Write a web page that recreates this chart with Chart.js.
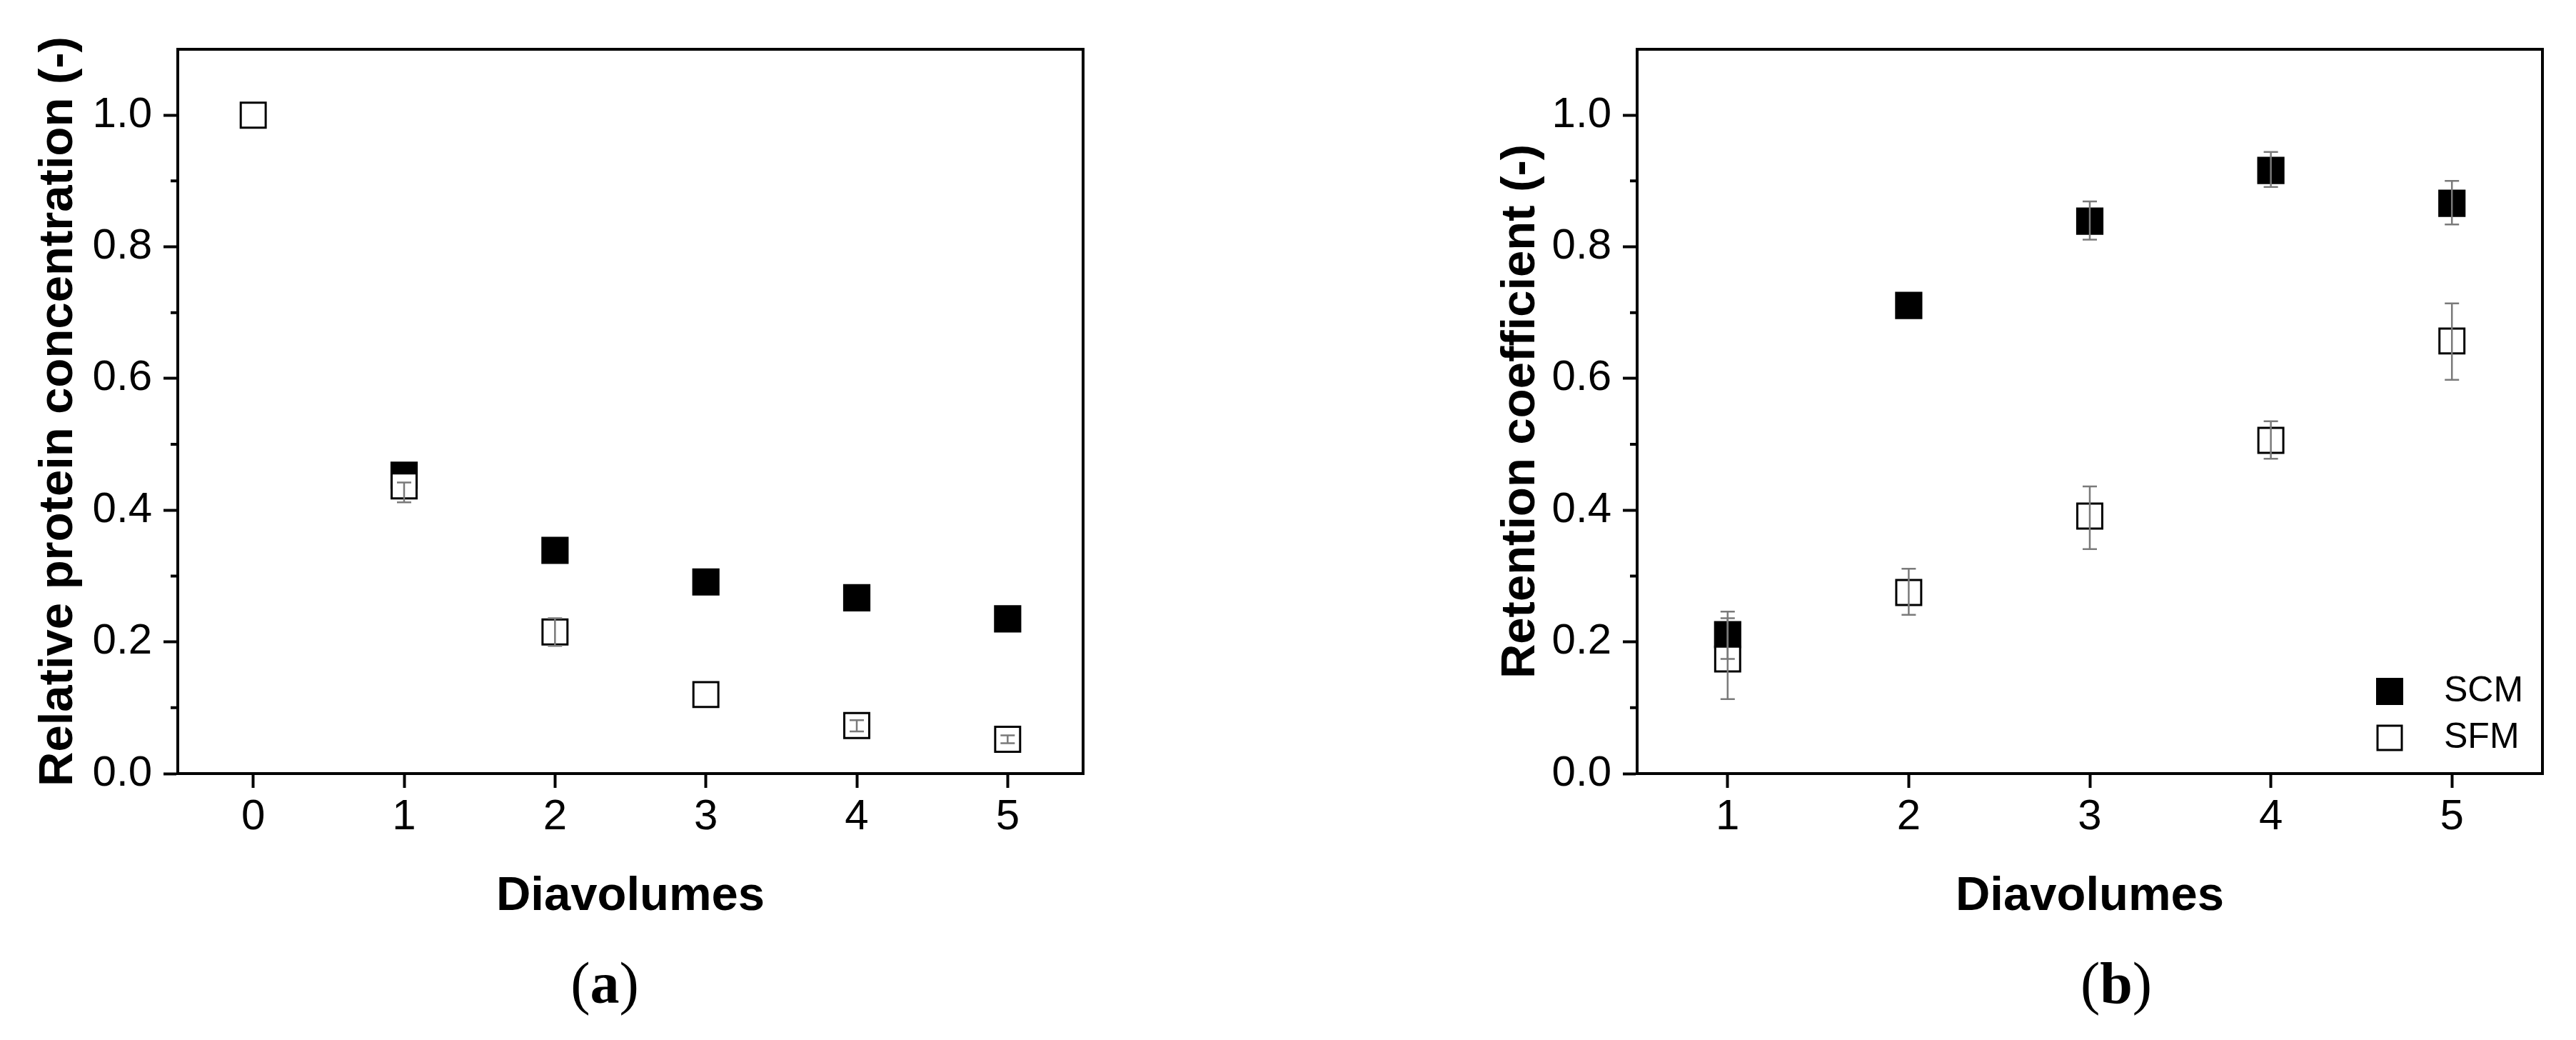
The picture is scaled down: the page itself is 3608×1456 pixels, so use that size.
<!DOCTYPE html>
<html>
<head>
<meta charset="utf-8">
<script src="https://cdn.jsdelivr.net/npm/chart.js@4.4.1/dist/chart.umd.min.js"></script>
<style>
  html, body { margin: 0; padding: 0; background: #fff; }
  body { width: 3608px; height: 1456px; position: relative; overflow: hidden; }
  .panel { position: absolute; top: 0; height: 1300px; }
  #panelA { left: 0; width: 1600px; }
  #panelB { left: 2044px; width: 1564px; }
  .caption {
    position: absolute; top: 1336px; width: 300px; margin-left: -150px;
    text-align: center; font-family: "Liberation Serif", "Times New Roman", serif;
    font-size: 82px; line-height: 1; color: #000;
  }
</style>
</head>
<body>
<div class="panel" id="panelA"><canvas id="chartA"></canvas></div>
<div class="panel" id="panelB"><canvas id="chartB"></canvas></div>
<div class="caption" style="left:847px">(<b>a</b>)</div>
<div class="caption" style="left:2964px">(<b>b</b>)</div>
<script>
// (a) relative protein concentration vs diavolumes
const diavolumesA = [0, 1, 2, 3, 4, 5];
const scmConcentration = [null, 0.453, 0.339, 0.291, 0.267, 0.235];
const sfmConcentration = [1.0, 0.437, 0.215, 0.120, 0.073, 0.052];
const sfmConcLow = [null, 0.412, 0.194, null, 0.064, 0.046];
const sfmConcHigh = [null, 0.442, 0.236, null, 0.081, 0.058];

// (b) retention coefficient vs diavolumes
const diavolumesB = [1, 2, 3, 4, 5];
const scmRetention = [0.211, 0.711, 0.839, 0.916, 0.866];
const scmRetLow = [0.174, null, 0.811, 0.891, 0.834];
const scmRetHigh = [0.246, null, 0.869, 0.944, 0.900];
const sfmRetention = [0.174, 0.275, 0.391, 0.506, 0.657];
const sfmRetLow = [0.113, 0.241, 0.341, 0.478, 0.598];
const sfmRetHigh = [0.236, 0.311, 0.436, 0.535, 0.714];

const yTickValues = [0, 0.2, 0.4, 0.6, 0.8, 1.0];
const seriesNames = ["SCM", "SFM"];

Chart.defaults.font.family = '"Liberation Sans", Arial, sans-serif';
Chart.defaults.color = "#000";

function toPoints(xs, ys, lows, highs) {
    const pts = [];
    xs.forEach((x, i) => {
        if (ys[i] == null) return;
        pts.push({ x: x, y: ys[i], lo: lows ? lows[i] : null, hi: highs ? highs[i] : null });
    });
    return pts;
}

const errorBars = {
    id: "errorBars",
    afterDatasetsDraw(chart) {
        const ctx = chart.ctx;
        const yScale = chart.scales.y;
        ctx.save();
        ctx.strokeStyle = "#7a7a7a";
        ctx.lineWidth = 2.5;
        chart.data.datasets.forEach((ds, i) => {
            const meta = chart.getDatasetMeta(i);
            meta.data.forEach((pt, j) => {
                const d = ds.data[j];
                if (d.lo == null || d.hi == null) return;
                const yLo = yScale.getPixelForValue(d.lo);
                const yHi = yScale.getPixelForValue(d.hi);
                ctx.beginPath();
                ctx.moveTo(pt.x, yLo); ctx.lineTo(pt.x, yHi);
                ctx.moveTo(pt.x - 10, yLo); ctx.lineTo(pt.x + 10, yLo);
                ctx.moveTo(pt.x - 10, yHi); ctx.lineTo(pt.x + 10, yHi);
                ctx.stroke();
            });
        });
        ctx.restore();
    }
};

// closes the box and adds the short minor ticks on y
const frameBox = {
    id: "frameBox",
    afterDraw(chart) {
        const { ctx, chartArea: a } = chart;
        const y = chart.scales.y;
        ctx.save();
        ctx.strokeStyle = "#000";
        ctx.lineWidth = 4;
        ctx.strokeRect(a.left, a.top, a.right - a.left, a.bottom - a.top);
        ctx.beginPath();
        for (let i = 0; i < y.ticks.length - 1; i++) {
            const mid = (y.ticks[i].value + y.ticks[i + 1].value) / 2;
            const py = y.getPixelForValue(mid);
            ctx.moveTo(a.left - 10, py);
            ctx.lineTo(a.left, py);
        }
        ctx.stroke();
        ctx.restore();
    }
};

const insideLegend = {
    id: "insideLegend",
    afterDraw(chart, args, opts) {
        if (!opts.show) return;
        const { ctx, chartArea: a } = chart;
        ctx.save();
        ctx.font = '50px "Liberation Sans", Arial, sans-serif';
        ctx.textBaseline = "middle";
        ctx.textAlign = "left";
        const rows = [a.bottom - 115, a.bottom - 50];
        chart.data.datasets.forEach((ds, i) => {
            const cy = rows[i];
            const cx = a.right - 214;
            if (ds.borderWidth > 0) {
                ctx.fillStyle = "#fff";
                ctx.fillRect(cx - 17, cy - 17, 34, 34);
                ctx.strokeStyle = "#000";
                ctx.lineWidth = 3;
                ctx.strokeRect(cx - 17, cy - 17, 34, 34);
            } else {
                ctx.fillStyle = "#000";
                ctx.fillRect(cx - 19, cy - 19, 38, 38);
            }
            ctx.fillStyle = "#000";
            ctx.fillText(ds.label, a.right - 138, cy);
        });
        ctx.restore();
    }
};

function makeChart(canvasId, xMin, xMax, xTicks, scmPts, sfmPts, yTitle, titlePad, padRight, showLegend) {
    return new Chart(document.getElementById(canvasId), {
        type: "scatter",
        data: {
            datasets: [
                {
                    label: seriesNames[0],
                    data: scmPts,
                    order: 2,
                    pointStyle: "rect",
                    pointRadius: 27,
                    pointHoverRadius: 27,
                    backgroundColor: "#000",
                    borderColor: "#000",
                    borderWidth: 0
                },
                {
                    label: seriesNames[1],
                    data: sfmPts,
                    order: 1,
                    pointStyle: "rect",
                    pointRadius: 24.7,
                    pointHoverRadius: 24.7,
                    backgroundColor: "#fff",
                    borderColor: "#000",
                    borderWidth: 3
                }
            ]
        },
        options: {
            responsive: true,
            maintainAspectRatio: false,
            animation: false,
            events: [],
            layout: { padding: { top: 69, right: padRight, left: 0, bottom: 0 } },
            plugins: {
                legend: { display: false },
                tooltip: { enabled: false },
                insideLegend: { show: showLegend }
            },
            scales: {
                x: {
                    type: "linear",
                    min: xMin,
                    max: xMax,
                    afterBuildTicks: s => { s.ticks = xTicks.map(v => ({ value: v })); },
                    afterFit: s => { s.height = 217; },
                    grid: { drawOnChartArea: false, drawTicks: true, tickLength: 20, tickWidth: 4, tickColor: "#000" },
                    border: { display: true, color: "#000", width: 4 },
                    ticks: {
                        color: "#000",
                        font: { size: 60 },
                        padding: 5,
                        maxRotation: 0,
                        callback: v => String(v)
                    },
                    title: {
                        display: true,
                        text: "Diavolumes",
                        color: "#000",
                        font: { size: 67, weight: "bold" },
                        padding: { top: 0, bottom: 4 }
                    }
                },
                y: {
                    type: "linear",
                    min: 0,
                    max: 1.1,
                    afterBuildTicks: s => { s.ticks = yTickValues.map(v => ({ value: v })); },
                    afterFit: s => { s.width = 249; },
                    grid: { drawOnChartArea: false, drawTicks: true, tickLength: 20, tickWidth: 4, tickColor: "#000" },
                    border: { display: true, color: "#000", width: 4 },
                    ticks: {
                        color: "#000",
                        font: { size: 60 },
                        padding: 16,
                        callback: v => v.toFixed(1)
                    },
                    title: {
                        display: true,
                        text: yTitle,
                        color: "#000",
                        font: { size: 67, weight: "bold" },
                        padding: { top: titlePad, bottom: 0 }
                    }
                }
            }
        },
        plugins: [errorBars, frameBox, insideLegend]
    });
}

document.addEventListener("DOMContentLoaded", () => {
    makeChart(
        "chartA", -0.5, 5.5, diavolumesA,
        toPoints(diavolumesA, scmConcentration),
        toPoints(diavolumesA, sfmConcentration, sfmConcLow, sfmConcHigh),
        "Relative protein concentration (-)", 42, 83, false
    );
    makeChart(
        "chartB", 0.5, 5.5, diavolumesB,
        toPoints(diavolumesB, scmRetention, scmRetLow, scmRetHigh),
        toPoints(diavolumesB, sfmRetention, sfmRetLow, sfmRetHigh),
        "Retention coefficient (-)", 46, 47, true
    );
});
</script>
</body>
</html>
